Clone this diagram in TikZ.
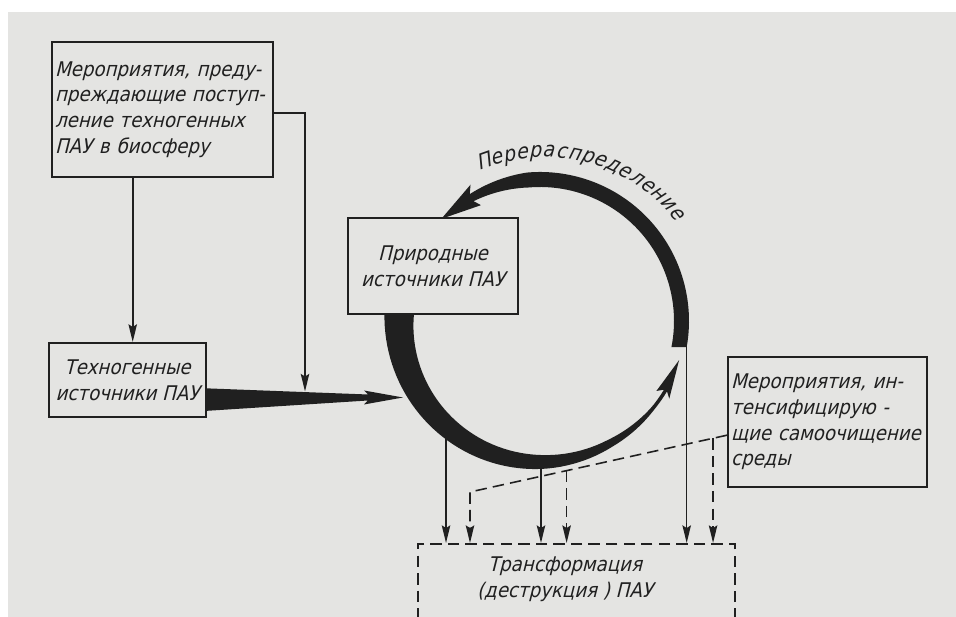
\documentclass[tikz,border=0pt]{standalone}
\usepackage{fontspec}
\newfontfamily\gost{DejaVu Sans}[FakeStretch=0.9,FakeSlant=0.25]
\usetikzlibrary{arrows.meta,calc}
\definecolor{ink}{RGB}{32,32,32}
\definecolor{paper}{RGB}{228,228,226}
\newdimen\upx \upx=0.02cm

\begin{document}
\begin{tikzpicture}[x=\upx,y=\upx,
  box/.style={draw=ink, line width=1.2pt, fill=paper, inner sep=0pt,
    font=\gost\fontsize{11.5}{14.6}\selectfont, text=ink},
  lbl/.style={font=\gost\fontsize{11.5}{14.6}\selectfont, text=ink, inner sep=0pt},
  letter/.style={font=\gost\fontsize{12}{14}\selectfont, text=ink, inner sep=0pt, anchor=base},
  link/.style={draw=ink, line width=0.9pt},
  tip/.style={-{Stealth[length=10pt,width=4.8pt,inset=1.5pt]}},
  brk/.style={dash pattern=on 6.5pt off 3.5pt}
]
\useasboundingbox (0,0) rectangle (956,617);
\fill[white] (0,0) rectangle (956,617);
\fill[paper] (8,0) rectangle (956,605);

% --- blocks ---
\node[box, minimum width=221\upx, minimum height=135\upx, text width=215\upx, align=left]
  (mA) at (162.5,507.5) {Мероприятия, преду-\\преждающие поступ-\\ление техногенных\\ПАУ в биосферу};
\node[box, minimum width=157\upx, minimum height=74\upx, align=center]
  (mB) at (127.5,237) {Техногенные\\источники ПАУ};
\node[box, minimum width=199\upx, minimum height=130\upx, text width=193\upx, align=left]
  (mD) at (827.5,195) {Мероприятия, ин-\\тенсифицирую -\\щие самоочищение\\среды};
\node[draw=ink, line width=1.2pt, brk, minimum width=317\upx, minimum height=110\upx,
  anchor=north, inner sep=0pt] (mE) at (576.5,74) {};
\node[lbl, align=center] (tE) at (565,38) {Трансформация\\(деструкция ) ПАУ};

% --- points on the cycle ---
\begin{scope}[shift={(540,296)}]
  \coordinate (cL) at (228.2:141);
  \coordinate (cB) at (270.4:141);
  \coordinate (rEnd) at (-10.1:149);
\end{scope}

% --- thin connectors ---
\coordinate (aB) at ($(mA.south west)!0.3665!(mA.south east)$);
\draw[link,tip] (aB) -- (aB |- mB.north);
\coordinate (aR) at ($(mA.south east)!0.474!(mA.north east)$);
\coordinate (jT) at (305,225.5);
\draw[link,tip] (aR) -| (jT);

\draw[link,tip] (cL) -- (cL |- mE.north);
\draw[link,tip] (cB) -- (cB |- mE.north);
\draw[link,tip] (rEnd) -- (rEnd |- mE.north);

\coordinate (dS) at ($(mD.south west)!0.4!(mD.north west)$);
\coordinate (dC) at (470,125);
\draw[link,brk,tip] (dS) -- (dC) -- (dC |- mE.north);
\coordinate (d2) at ($(dS)!0.624!(dC)$);
\draw[link,brk,tip] (d2) -- (d2 |- mE.north);
\coordinate (d3) at ($(dS)!0.054!(dC)$);
\draw[link,brk,tip] (d3) -- (d3 |- mE.north);

% --- tapered flow from the technogenic sources ---
\coordinate (hit) at (403,219.5);
\fill[ink] ($(mB.south east)!0.095!(mB.north east)$) -- (368,216.5) -- (364,212.5) -- (hit)
  -- (364,226.5) -- (368,222.5) -- ($(mB.south east)!0.39!(mB.north east)$) -- cycle;

% --- the cycle ---
\begin{scope}[shift={(540,296)},
  declare function={wd(\t)=max(3.5,(\t<270)*(29-(\t-180)/6)+(\t>=270)*(14-(\t-270)/5));
                    rc(\t)=141+(\t>300)*(\t-300)*3.5/44;}]
  % redistribution arc
  \fill[ink] (-11.2:134) -- (-10.1:149) arc[start angle=-10.1, end angle=95, radius=149]
    -- plot[domain=95:119, samples=13] (\x:{149-4*(\x-95)/24})
    -- (117:153) -- (134:142) -- (117:130)
    -- plot[domain=119:95, samples=13] (\x:{134+3*(\x-95)/24})
    -- (95:134) arc[start angle=95, end angle=-11.2, radius=134] -- cycle;
  % lower crescent
  \fill[ink] plot[domain=165:331, samples=70] (\x:{rc(\x)+wd(\x)/2})
    -- (329:{rc(329)+7.5}) -- (344.3:144.5) -- (329:{rc(329)-7.5})
    -- plot[domain=331:165, samples=70] (\x:{rc(\x)-wd(\x)/2}) -- cycle;
  % label set letter by letter along the arc
  \foreach \ch [count=\i] in {П,е,р,е,р,а,с,п,р,е,д,е,л,е,н,и,е} {
    \pgfmathsetmacro{\ang}{109.5-(\i-1)*4.45}
    \pgfmathsetmacro{\rad}{162+(\i-1)*0.4}
    \node[letter, rotate=\ang-90] (lt\i) at (\ang:\rad) {\ch};
  }
\end{scope}

\node[box, minimum width=170\upx, minimum height=96\upx, align=center]
  (mC) at (433,351) {Природные\\источники ПАУ};
\end{tikzpicture}
\end{document}
